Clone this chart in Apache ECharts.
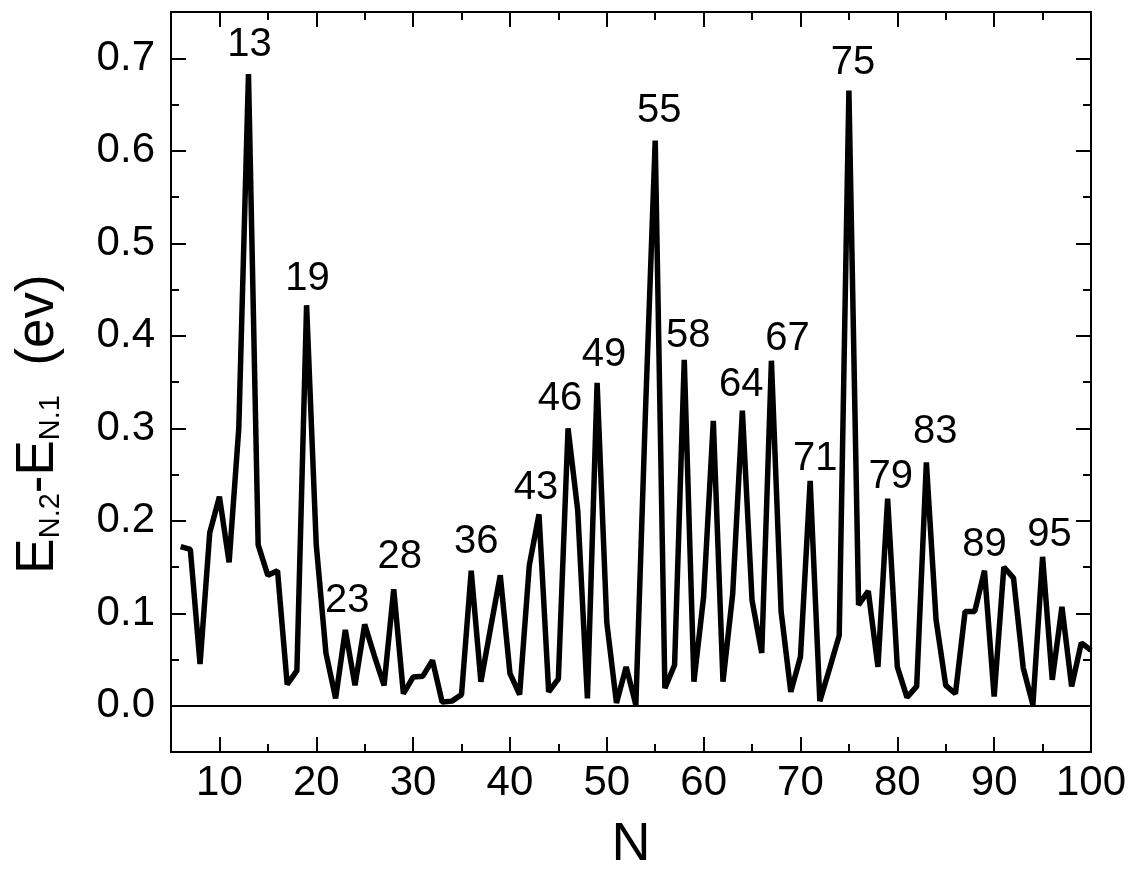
<!DOCTYPE html>
<html><head><meta charset="utf-8">
<script src="https://cdn.jsdelivr.net/npm/echarts@6/dist/echarts.min.js"></script>
<style>html,body{margin:0;padding:0;background:#fff}#c{width:1138px;height:877px}</style>
</head><body><div id="c"></div>
<script>
// ---- data ----
const nValues = [6,7,8,9,10,11,12,13,14,15,16,17,18,19,20,21,22,23,24,25,26,27,28,29,30,
  31,32,33,34,35,36,37,38,39,40,41,42,43,44,45,46,47,48,49,50,51,52,53,54,55,56,57,58,59,60,
  61,62,63,64,65,66,67,68,69,70,71,72,73,74,75,76,77,78,79,80,81,82,83,84,85,86,87,88,89,90,
  91,92,93,94,95,96,97,98,99,100];
const gapValues = [0.172,0.169,0.045,0.187,0.226,0.155,0.300,0.683,0.174,0.141,0.146,0.023,0.038,0.433,0.174,
  0.057,0.008,0.082,0.022,0.088,0.054,0.022,0.126,0.013,0.031,
  0.032,0.049,0.004,0.005,0.012,0.146,0.026,0.084,0.141,0.035,
  0.012,0.152,0.207,0.015,0.029,0.300,0.211,0.008,0.349,0.090,
  0.003,0.042,0.001,0.320,0.611,0.019,0.044,0.374,0.026,0.118,
  0.308,0.026,0.121,0.319,0.114,0.057,0.373,0.102,0.015,0.053,
  0.243,0.005,0.040,0.076,0.665,0.109,0.124,0.042,0.224,0.042,
  0.009,0.021,0.263,0.093,0.022,0.013,0.102,0.102,0.146,0.010,
  0.150,0.138,0.041,0.001,0.161,0.028,0.107,0.021,0.068,0.060];
const peakN = [13,19,23,28,36,43,46,49,55,58,64,67,71,75,79,83,89,95];
const peakText = ['13','19','23','28','36','43','46','49','55','58','64','67','71','75','79','83','89','95'];
const xMajorTicks = [10,20,30,40,50,60,70,80,90,100];
const xMinorTicks = [15,25,35,45,55,65,75,85,95];
const yMajorTicks = [0,0.1,0.2,0.3,0.4,0.5,0.6,0.7];
const yMinorTicks = [0.05,0.15,0.25,0.35,0.45,0.55,0.65];
const yTickLabels = ['0.0','0.1','0.2','0.3','0.4','0.5','0.6','0.7'];
const xName = 'N';

// ---- styling ----
const FONT = 'Liberation Sans, Arial, Helvetica, sans-serif';
const labelOffsets = {13:[1,-29],19:[1,-26],23:[2,-29],28:[6,-32],36:[5,-29],43:[-3,-26],46:[-8,-29],
  49:[7,-28],55:[4,-30],58:[4,-24],64:[-1,-26],67:[16,-22],71:[5,-22],75:[4,-28],79:[3,-22],
  83:[9,-31],89:[0,-26],95:[7,-22]};

function xAxisDef(pos, ticks, len, showLine, showLabel) {
  return {
    type: 'value', position: pos, min: 5, max: 100,
    axisLine: {show: showLine, onZero: false, lineStyle: {color: '#000', width: 2}},
    axisTick: {show: true, inside: true, length: len, customValues: ticks, lineStyle: {color: '#000', width: 2}},
    axisLabel: showLabel ? {show: true, customValues: xMajorTicks, fontSize: 42, fontFamily: FONT, color: '#000', margin: 10}
                         : {show: false},
    splitLine: {show: false}
  };
}
function yAxisDef(pos, ticks, len, showLine, showLabel) {
  return {
    type: 'value', position: pos, min: -0.05, max: 0.75,
    axisLine: {show: showLine, onZero: false, lineStyle: {color: '#000', width: 2}},
    axisTick: {show: true, inside: true, length: len, customValues: ticks, lineStyle: {color: '#000', width: 2}},
    axisLabel: showLabel ? {show: true, customValues: yMajorTicks, fontSize: 42, fontFamily: FONT, color: '#000', margin: 16,
      formatter: v => { const i = yMajorTicks.findIndex(t => Math.abs(t - v) < 1e-6); return i >= 0 ? yTickLabels[i] : ''; }}
                         : {show: false},
    splitLine: {show: false}
  };
}

const xBottom = xAxisDef('bottom', xMajorTicks, 15, true, true);
xBottom.name = xName;
xBottom.nameLocation = 'middle';
xBottom.nameGap = 66;
xBottom.nameTextStyle = {fontSize: 54, fontFamily: FONT, color: '#000'};

const option = {
  animation: false,
  backgroundColor: '#fff',
  grid: {left: 171, right: 47, top: 12, bottom: 115, containLabel: false},
  xAxis: [
    xBottom,
    xAxisDef('bottom', xMinorTicks, 8, false, false),
    xAxisDef('top', xMajorTicks, 15, true, false),
    xAxisDef('top', xMinorTicks, 8, false, false)
  ],
  yAxis: [
    yAxisDef('left', yMajorTicks, 15, true, true),
    yAxisDef('left', yMinorTicks, 8, false, false),
    yAxisDef('right', yMajorTicks, 15, true, false),
    yAxisDef('right', yMinorTicks, 8, false, false)
  ],
  series: [
    {
      type: 'line', xAxisIndex: 0, yAxisIndex: 0,
      data: nValues.map((n, i) => [n, gapValues[i]]),
      symbol: 'none', showSymbol: false,
      lineStyle: {color: '#000', width: 5.5},
      silent: true,
      markLine: {
        silent: true, symbol: ['none', 'none'], label: {show: false},
        lineStyle: {color: '#000', width: 2, type: 'solid'},
        data: [{yAxis: 0}]
      }
    },
    {
      type: 'scatter', xAxisIndex: 0, yAxisIndex: 0,
      symbol: 'circle', symbolSize: 0.01,
      itemStyle: {color: '#000', opacity: 1},
      silent: true,
      label: {show: true, position: 'inside', align: 'center', verticalAlign: 'middle',
        color: '#000', opacity: 1, textBorderWidth: 0, fontSize: 40, fontFamily: FONT},
      data: peakN.map((n, i) => ({
        value: [n, gapValues[nValues.indexOf(n)]],
        label: {formatter: peakText[i], offset: labelOffsets[n]}
      }))
    }
  ],
  graphic: [{
    type: 'text',
    x: 35, y: 424,
    rotation: Math.PI / 2,
    style: {
      text: '{b|E}{s|N.2}{b|-E}{s|N.1}{b|  (ev)}',
      align: 'center', verticalAlign: 'middle',
      fill: '#000',
      rich: {
        b: {fontSize: 53, fontFamily: FONT, fill: '#000', lineHeight: 60, verticalAlign: 'bottom'},
        s: {fontSize: 29, fontFamily: FONT, fill: '#000', lineHeight: 4, verticalAlign: 'bottom'}
      }
    }
  }]
};

const chart = echarts.init(document.getElementById('c'), null, {renderer: 'canvas'});
chart.setOption(option);
</script>
</body></html>
